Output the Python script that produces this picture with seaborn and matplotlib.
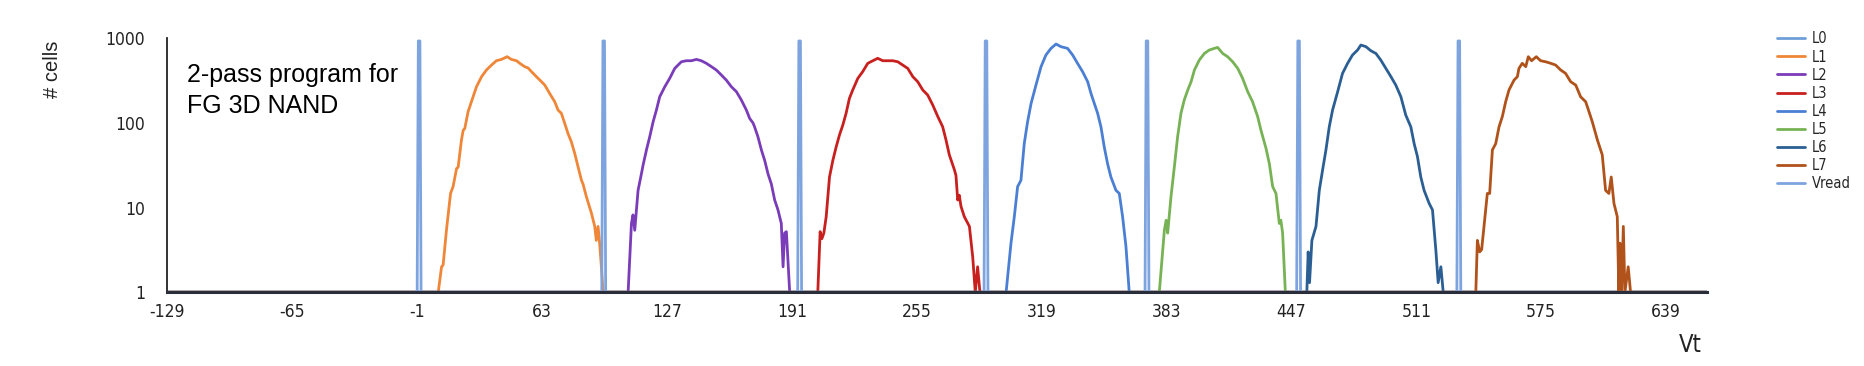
import numpy as np
import pandas as pd
import matplotlib
matplotlib.use("Agg")
import matplotlib.pyplot as plt
import seaborn as sns
from matplotlib import font_manager

# ---------------------------------------------------------------- data
vt_min, vt_max = -129, 660
x_ticks = [-129, -65, -1, 63, 127, 191, 255, 319, 383, 447, 511, 575, 639]
y_ticks = [1, 10, 100, 1000]

levels = ["L0", "L1", "L2", "L3", "L4", "L5", "L6", "L7", "Vread"]

L0_vt = [vt_min, vt_max]
L0_cells = [1, 1]

L1_vt = [9.8, 11.5, 12.3, 14.0, 16.1, 17.4, 19.2, 20.0, 21.7, 22.6, 23.4, 25.1, 26.8, 29.4, 32.0, 34.5,
         37.1, 39.6, 42.2, 45.1, 47.3, 49.9, 51.6, 54.1, 55.9, 57.6, 60.1, 62.7, 64.4, 66.9, 69.5, 71.2,
         72.9, 74.6, 76.3, 78.0, 79.7, 81.5, 83.2, 84.0, 85.7, 88.3, 90.0, 90.8, 91.7, 92.5, 93.4, 94.3]
L1_cells = [1, 2.0, 2.1, 5.4, 14.7, 17.7, 29, 30, 63, 82, 86, 136, 178, 268, 352, 422,
            483, 543, 563, 606, 563, 543, 506, 462, 445, 403, 352, 307, 280, 223, 178, 142,
            130, 99, 75, 60, 44, 30, 21, 19, 13.5, 8.6, 6.0, 4.1, 6.0, 3.8, 2.0, 1]

L2_vt = [107.1, 108.8, 109.6, 110.5, 112.2, 113.9, 114.8, 116.5, 118.2, 119.9, 121.6, 123.3, 125.9, 128.4,
         131.0, 132.7, 134.4, 136.9, 139.5, 142.1, 144.6, 147.2, 149.8, 152.3, 154.9, 157.4, 160.0, 162.6,
         165.1, 167.7, 169.4, 171.1, 171.9, 173.6, 175.4, 177.1, 178.8, 180.5, 182.2, 183.9, 185.6, 186.5,
         187.3, 188.2, 189.0, 189.9]
L2_cells = [1, 6.5, 8.2, 5.4, 16, 25, 32, 48, 69, 103, 142, 204, 268, 336,
            441, 483, 528, 543, 543, 563, 543, 506, 462, 422, 368, 321, 268, 234,
            187, 142, 113, 100, 90, 69, 48, 36, 25, 19, 12.3, 9.4, 6.5, 2.0,
            5.0, 5.2, 2.4, 1]

L3_vt = [204.3, 205.5, 206.4, 207.4, 208.6, 210.3, 212.0, 213.7, 215.4, 217.1, 218.8, 220.5, 222.2, 224.8,
         227.3, 229.9, 232.5, 235.0, 237.6, 240.2, 242.7, 245.3, 247.8, 250.4, 253.0, 255.5, 258.1, 260.6,
         263.2, 265.8, 268.3, 270.0, 271.7, 274.3, 275.1, 276.0, 276.8, 277.7, 279.4, 282.0, 283.7, 285.0,
         286.2, 287.4]
L3_cells = [1, 5.2, 4.3, 5.0, 7.8, 23, 36, 52, 72, 94, 130, 195, 245, 336,
            403, 506, 543, 580, 543, 543, 543, 528, 483, 441, 352, 307, 245, 214,
            163, 119, 90, 63, 42, 28, 24, 12.3, 14, 10.3, 7.8, 6.0, 2.6, 1,
            2.0, 1]

L4_vt = [300.8, 302.1, 303.3, 305.0, 306.7, 308.4, 310.1, 311.8, 313.6, 316.1, 318.7, 321.2, 323.8, 326.4,
         328.9, 332.3, 334.9, 337.4, 340.0, 342.6, 344.3, 346.0, 347.7, 349.4, 351.1, 352.8, 354.5, 357.1,
         358.8, 360.5, 362.2, 363.9]
L4_cells = [1, 2.0, 3.8, 7.8, 17.7, 21, 57, 103, 170, 280, 462, 634, 760, 855,
            796, 760, 634, 506, 403, 307, 223, 170, 130, 90, 52, 33, 23, 16,
            14.7, 7.8, 3.5, 1]

L5_vt = [379.3, 381.9, 382.8, 383.6, 385.3, 387.0, 388.7, 390.4, 392.1, 393.9, 395.6, 397.3, 399.8, 402.4,
         404.9, 407.5, 409.2, 411.8, 414.3, 416.9, 419.5, 422.0, 424.6, 427.1, 429.7, 431.4, 434.0, 435.7,
         437.4, 439.1, 440.8, 441.6, 442.5, 443.9]
L5_cells = [1, 5.4, 7.1, 5.0, 13.5, 30, 69, 130, 187, 245, 307, 422, 553, 662,
            726, 760, 780, 662, 606, 528, 441, 336, 234, 178, 119, 82, 50, 33,
            17.7, 14.7, 6.5, 7.1, 5.0, 1]

L6_vt = [454.9, 455.6, 456.3, 457.5, 459.6, 461.3, 463.0, 464.7, 466.4, 468.1, 470.7, 473.2, 475.8, 478.3,
         480.9, 482.6, 485.2, 487.7, 490.3, 492.8, 495.4, 498.0, 500.5, 503.1, 505.6, 508.2, 509.9, 511.6,
         513.3, 515.0, 517.6, 519.3, 521.0, 522.2, 523.6, 524.8]
L6_cells = [1, 3.0, 1.3, 4.1, 6.0, 16, 28, 48, 90, 142, 234, 385, 506, 634,
            726, 832, 796, 713, 662, 553, 441, 352, 280, 204, 124, 90, 57, 40,
            23, 16, 11.2, 9.4, 3.2, 1.3, 2.0, 1]

L7_vt = [541.5, 542.3, 543.5, 544.5, 545.7, 547.4, 548.6, 550.0, 551.7, 553.4, 555.1, 556.8, 558.5, 561.1,
         562.8, 563.6, 565.3, 567.1, 568.4, 570.1, 572.5, 574.7, 577.3, 579.9, 582.4, 585.0, 587.5, 590.1,
         592.7, 595.2, 597.8, 599.5, 601.2, 603.8, 606.3, 608.0, 609.7, 610.9, 612.3, 614.0, 614.8, 615.4,
         616.2, 617.1, 617.9, 619.6, 620.8]
L7_cells = [1, 4.1, 3.0, 3.2, 6.0, 14.7, 14.7, 48, 57, 90, 119, 178, 245, 321,
            352, 441, 506, 462, 606, 543, 606, 543, 528, 506, 483, 422, 385, 307,
            280, 204, 178, 136, 103, 63, 42, 16, 14.7, 23, 11.2, 7.8, 1, 3.8,
            1, 6.0, 1, 2.0, 1]

# read voltages (spikes) and their height
vread_pos = [0, 94.6, 195, 290.5, 373, 450.7, 532.8]
vread_peak = 930

colors = {"L0": "#6f9fd8", "L1": "#ef8638", "L2": "#7a3cb8", "L3": "#c8201e", "L4": "#4a7fd4",
          "L5": "#77b255", "L6": "#2b5f94", "L7": "#b0521a", "Vread": "#7ea4df"}

# ---------------------------------------------------------------- build long table
def with_floor(vt, cells):
    """pad a distribution with the 1-cell floor on both sides of the window"""
    return [vt_min] + list(vt) + [vt_max], [1] + list(cells) + [1]

series = {
    "L0": (L0_vt, L0_cells),
    "L1": with_floor(L1_vt, L1_cells),
    "L2": with_floor(L2_vt, L2_cells),
    "L3": with_floor(L3_vt, L3_cells),
    "L4": with_floor(L4_vt, L4_cells),
    "L5": with_floor(L5_vt, L5_cells),
    "L6": with_floor(L6_vt, L6_cells),
    "L7": with_floor(L7_vt, L7_cells),
}
vr_vt, vr_cells = [], []
for p in vread_pos:
    vr_vt += [p - 1, p - 0.4, p + 0.4, p + 1]
    vr_cells += [1, vread_peak, vread_peak, 1]
series["Vread"] = with_floor(vr_vt, vr_cells)

frames = [pd.DataFrame({"Vt": v, "cells": c, "level": k}) for k, (v, c) in series.items()]
df = pd.concat(frames, ignore_index=True)

# ---------------------------------------------------------------- fonts
sns.set_style("white")
plt.rcParams["font.family"] = ["Liberation Sans", "DejaVu Sans"]

# a condensed face for tick / legend text if one is installed
narrow = None
for f in font_manager.fontManager.ttflist:
    if f.name == "Liberation Sans Narrow" and f.style == "normal" and f.weight in (400, "normal"):
        narrow = font_manager.FontProperties(fname=f.fname)
        break
if narrow is None:
    for f in font_manager.fontManager.ttflist:
        if f.stretch in ("condensed", "semi-condensed") and f.style == "normal" \
                and f.weight in (400, "normal") and "Mono" not in f.name and "Serif" not in f.name:
            narrow = font_manager.FontProperties(fname=f.fname)
            break
if narrow is None:
    narrow = font_manager.FontProperties(family="Liberation Sans")
tick_fp = narrow.copy()
tick_fp.set_size(12.5)
leg_fp = narrow.copy()
leg_fp.set_size(10.5)
vt_fp = narrow.copy()
vt_fp.set_size(17)

# ---------------------------------------------------------------- plot
fig = plt.figure(figsize=(18.64, 3.66), dpi=100)
ax = fig.add_axes([0.0898, 0.2014, 0.826, 0.694])

sns.lineplot(data=df, x="Vt", y="cells", hue="level", hue_order=levels, palette=colors,
             estimator=None, sort=False, lw=2.0, ax=ax)

ax.set_yscale("log")
ax.set_xlim(vt_min, vt_max)
ax.set_ylim(1, 1000)
ax.set_xticks(x_ticks)
ax.set_xticklabels([str(t) for t in x_ticks], fontproperties=tick_fp, color="#222222")
ax.set_yticks(y_ticks)
ax.set_yticklabels([str(t) for t in y_ticks], fontproperties=tick_fp, color="#222222")
ax.minorticks_off()
ax.tick_params(axis="x", length=4, width=1.2, pad=4, color="#222222")
ax.tick_params(axis="y", length=13, width=1.2, pad=3, color="#222222")
ax.set_xlabel("")
ax.set_ylabel("")

for s in ["top", "right"]:
    ax.spines[s].set_visible(False)
ax.spines["left"].set_color("#222222")
ax.spines["left"].set_linewidth(1.3)
ax.spines["bottom"].set_color("#2a2e3a")
ax.spines["bottom"].set_linewidth(2.2)

fig.text(0.028, 0.81, "# cells", rotation=90, ha="center", va="center", fontsize=14.5, color="#222222")
fig.text(0.907, 0.057, "Vt", ha="center", va="center", fontproperties=vt_fp, color="#222222")
fig.text(0.1003, 0.776, "2-pass program for", ha="left", va="baseline", fontsize=18, color="black")
fig.text(0.1003, 0.691, "FG 3D NAND", ha="left", va="baseline", fontsize=18, color="black")

handles, labels = ax.get_legend_handles_labels()
ax.get_legend().remove()
fig.legend(handles, labels, loc="upper left", bbox_to_anchor=(0.9533, 0.914), frameon=False,
           borderpad=0, borderaxespad=0, handlelength=1.9, handletextpad=0.48, labelspacing=0.21,
           prop=leg_fp)

fig.savefig("out.png", dpi=100)
